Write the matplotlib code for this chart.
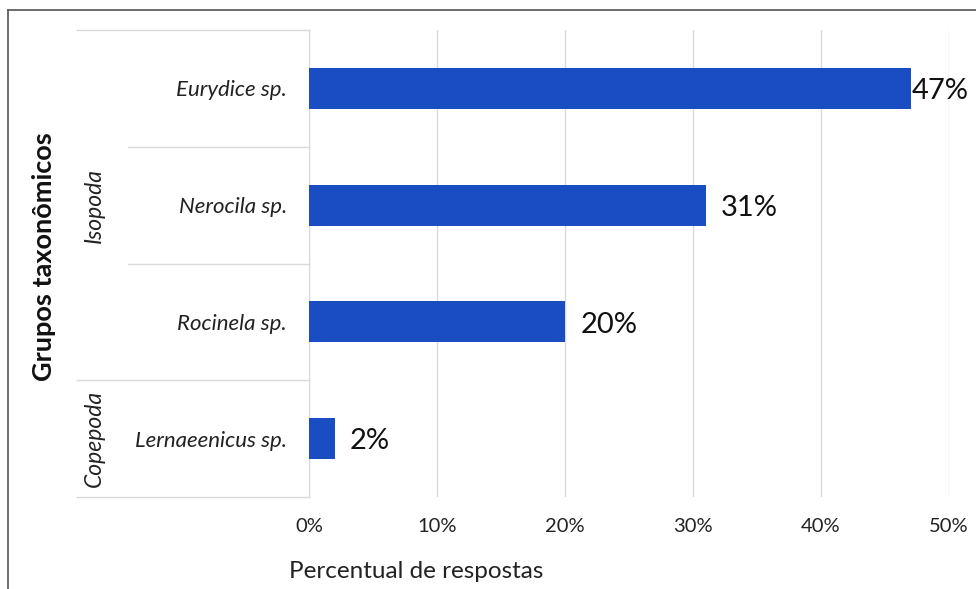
# Percentual de respostas por grupo taxonomico

import matplotlib
matplotlib.use('Agg')
import matplotlib.pyplot as plt
from matplotlib.lines import Line2D
import matplotlib.transforms as mtransforms

plt.rcParams['font.family'] = ['Lato', 'DejaVu Sans']

# data
species = ['Eurydice sp.', 'Nerocila sp.', 'Rocinela sp.', 'Lernaeenicus sp.']
values = [47, 31, 20, 2]
groups = ['Isopoda', 'Copepoda']
group_sizes = [3, 1]
xticks = [0, 10, 20, 30, 40, 50]
xticklabels = ['0%', '10%', '20%', '30%', '40%', '50%']

W, H = 976, 589
fig = plt.figure(figsize=(W / 100, H / 100), dpi=100)
ax = fig.add_axes([309 / W, 1 - 497 / H, 640 / W, 467 / H])

bar_color = '#1A4CC2'
ypos = list(range(len(species)))
ax.barh(ypos, values, height=0.35, color=bar_color, zorder=3)

ax.set_xlim(0, 50)
ax.set_ylim(len(species) - 0.5, -0.5)
ax.set_xticks(xticks)
ax.set_xticklabels(xticklabels, fontsize=14.5, color='#222222')
ax.set_yticks(ypos)
ax.set_yticklabels(species, fontsize=16, style='italic', color='#222222')
ax.tick_params(axis='x', length=0, pad=15)
ax.tick_params(axis='y', length=0, pad=16)
ax.grid(axis='x', color='#d9d9d9', linewidth=1, zorder=0)
for s in ['top', 'right', 'bottom']:
    ax.spines[s].set_visible(False)
ax.spines['left'].set_color('#d9d9d9')

# value labels
for y, v in zip(ypos, values):
    off = 1 if v == max(values) else 11
    ax.annotate(f'{v}%', (v, y), xytext=(off, -2), textcoords='offset points',
                va='center', ha='left', fontsize=21, color='#111111')

# group separators and labels on the left
trans = mtransforms.blended_transform_factory(ax.transAxes, ax.transData)
x_outer = (77 - 309) / 640
x_inner = (128 - 309) / 640
x_group = (94 - 309) / 640
start = -0.5
for g, n in zip(groups, group_sizes):
    ax.plot([x_outer, 0], [start, start], color='#d9d9d9', lw=1,
            transform=trans, clip_on=False)
    for k in range(1, n):
        ax.plot([x_inner, 0], [start + k, start + k], color='#d9d9d9', lw=1,
                transform=trans, clip_on=False)
    ax.text(x_group, start + n / 2, g, rotation=90, ha='center', va='center',
            fontsize=16.5, style='italic', color='#222222', transform=trans)
    start += n
ax.plot([x_outer, 0], [start, start], color='#d9d9d9', lw=1,
        transform=trans, clip_on=False)

fig.text(44 / W, 1 - 257 / H, 'Grupos taxonômicos', rotation=90, ha='center',
         va='center', fontsize=19.5, fontweight='bold', color='#111111')
fig.text(289 / W, 1 - 571 / H, 'Percentual de respostas', ha='left',
         va='center', fontsize=17.5, color='#222222')

# outer frame
fig.add_artist(Line2D([8 / W, 8 / W], [0, 1 - 10 / H], color='#555555', lw=1.2))
fig.add_artist(Line2D([8 / W, 1], [1 - 10 / H, 1 - 10 / H], color='#555555', lw=1.2))

fig.savefig('out.png', dpi=100)
